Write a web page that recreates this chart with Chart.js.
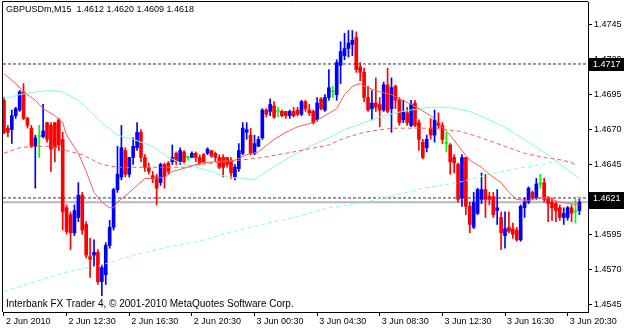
<!DOCTYPE html>
<html><head><meta charset="utf-8">
<script src="https://cdn.jsdelivr.net/npm/chart.js@4.4.0/dist/chart.umd.min.js"></script>
<style>html,body{margin:0;padding:0;background:#fff;}#wrap{width:625px;height:329px;}</style>
</head><body><div id="wrap"><canvas id="c" width="625" height="329"></canvas></div>
<script>
const symbolTitle = "GBPUSDm,M15";
const copyrightText = "Interbank FX Trader 4, \u00A9 2001-2010 MetaQuotes Software Corp.";

// OHLC of 148 M15 bars, 2 Jun 08:30 .. 3 Jun 21:15
const opens = [1.4691,1.4671,1.4670,1.4680,1.4684,1.4697,1.4678,1.4671,1.4658,1.4665,1.4665,1.4675,1.4673,1.4675,1.4677,1.4663,1.4614,1.4609,1.4596,1.4607,
1.4623,1.4602,1.4579,1.4580,1.4582,1.4561,1.4566,1.4587,1.4600,1.4627,1.4636,1.4655,1.4638,1.4650,1.4657,1.4668,1.4650,1.4643,1.4637,1.4636,
1.4632,1.4645,1.4646,1.4647,1.4653,1.4647,1.4654,1.4650,1.4650,1.4653,1.4650,1.4652,1.4653,1.4655,1.4653,1.4650,1.4650,1.4650,1.4648,1.4636,
1.4642,1.4653,1.4668,1.4666,1.4653,1.4658,1.4664,1.4684,1.4683,1.4687,1.4683,1.4683,1.4683,1.4680,1.4683,1.4684,1.4681,1.4690,1.4684,1.4683,
1.4677,1.4692,1.4684,1.4693,1.4697,1.4695,1.4716,1.4723,1.4728,1.4731,1.4736,1.4715,1.4711,1.4693,1.4685,1.4689,1.4688,1.4684,1.4702,1.4685,
1.4701,1.4691,1.4677,1.4682,1.4673,1.4689,1.4675,1.4661,1.4657,1.4671,1.4666,1.4675,1.4673,1.4660,1.4659,1.4650,1.4645,1.4621,1.4650,1.4615,
1.4600,1.4610,1.4620,1.4627,1.4622,1.4622,1.4612,1.4607,1.4594,1.4600,1.4599,1.4598,1.4591,1.4614,1.4618,1.4625,1.4621,1.4631,1.4632,1.4621,
1.4618,1.4617,1.4614,1.4607,1.4607,1.4614,1.4611,1.4612];
const highs = [1.4693,1.4673,1.4684,1.4686,1.4698,1.4703,1.4679,1.4673,1.4666,1.4673,1.4688,1.4675,1.4675,1.4675,1.4678,1.4668,1.4616,1.4611,1.4616,1.4632,
1.4625,1.4604,1.4592,1.4591,1.4584,1.4573,1.4589,1.4605,1.4628,1.4658,1.4673,1.4657,1.4650,1.4664,1.4675,1.4670,1.4652,1.4646,1.4640,1.4638,
1.4646,1.4646,1.4647,1.4659,1.4654,1.4657,1.4655,1.4651,1.4654,1.4654,1.4652,1.4653,1.4657,1.4655,1.4654,1.4652,1.4652,1.4650,1.4650,1.4645,
1.4660,1.4675,1.4675,1.4671,1.4666,1.4665,1.4685,1.4685,1.4692,1.4690,1.4686,1.4684,1.4683,1.4684,1.4686,1.4686,1.4691,1.4691,1.4688,1.4684,
1.4693,1.4693,1.4695,1.4713,1.4701,1.4720,1.4733,1.4739,1.4741,1.4741,1.4740,1.4718,1.4714,1.4701,1.4698,1.4707,1.4693,1.4704,1.4714,1.4707,
1.4702,1.4693,1.4691,1.4686,1.4691,1.4691,1.4677,1.4663,1.4666,1.4678,1.4684,1.4682,1.4675,1.4668,1.4660,1.4652,1.4646,1.4652,1.4650,1.4618,
1.4625,1.4628,1.4639,1.4638,1.4625,1.4625,1.4627,1.4611,1.4611,1.4611,1.4603,1.4600,1.4616,1.4621,1.4629,1.4626,1.4635,1.4638,1.4635,1.4622,
1.4621,1.4618,1.4616,1.4614,1.4615,1.4616,1.4620,1.4620];
const lows = [1.4667,1.4665,1.4660,1.4678,1.4683,1.4677,1.4671,1.4657,1.4628,1.4650,1.4664,1.4661,1.4640,1.4647,1.4655,1.4598,1.4595,1.4584,1.4594,1.4604,
1.4595,1.4578,1.4564,1.4572,1.4559,1.4551,1.4559,1.4585,1.4598,1.4625,1.4634,1.4636,1.4636,1.4645,1.4655,1.4647,1.4640,1.4638,1.4632,1.4616,
1.4630,1.4628,1.4638,1.4645,1.4645,1.4645,1.4646,1.4648,1.4650,1.4647,1.4645,1.4646,1.4652,1.4650,1.4647,1.4642,1.4636,1.4643,1.4635,1.4634,
1.4640,1.4652,1.4663,1.4652,1.4652,1.4658,1.4663,1.4679,1.4680,1.4678,1.4679,1.4679,1.4678,1.4678,1.4679,1.4680,1.4680,1.4683,1.4680,1.4674,
1.4676,1.4684,1.4683,1.4691,1.4693,1.4691,1.4703,1.4720,1.4722,1.4723,1.4711,1.4705,1.4690,1.4683,1.4677,1.4683,1.4672,1.4683,1.4682,1.4668,
1.4685,1.4673,1.4675,1.4673,1.4672,1.4672,1.4655,1.4649,1.4654,1.4663,1.4661,1.4671,1.4660,1.4654,1.4638,1.4639,1.4618,1.4615,1.4609,1.4596,
1.4599,1.4609,1.4617,1.4607,1.4616,1.4607,1.4602,1.4584,1.4585,1.4596,1.4592,1.4590,1.4590,1.4607,1.4617,1.4620,1.4620,1.4628,1.4618,1.4604,
1.4605,1.4604,1.4605,1.4602,1.4605,1.4604,1.4603,1.4609];
const closes = [1.4668,1.4668,1.4680,1.4685,1.4697,1.4678,1.4673,1.4658,1.4664,1.4665,1.4669,1.4663,1.4656,1.4657,1.4659,1.4611,1.4597,1.4596,1.4612,1.4623,
1.4598,1.4580,1.4577,1.4582,1.4561,1.4571,1.4587,1.4600,1.4627,1.4638,1.4657,1.4638,1.4650,1.4658,1.4668,1.4650,1.4643,1.4640,1.4635,1.4628,
1.4645,1.4636,1.4640,1.4650,1.4647,1.4655,1.4647,1.4650,1.4653,1.4650,1.4646,1.4647,1.4656,1.4651,1.4650,1.4643,1.4643,1.4645,1.4639,1.4643,
1.4655,1.4671,1.4670,1.4653,1.4660,1.4663,1.4684,1.4681,1.4688,1.4679,1.4683,1.4680,1.4680,1.4683,1.4680,1.4681,1.4690,1.4685,1.4682,1.4675,
1.4689,1.4685,1.4693,1.4700,1.4697,1.4718,1.4726,1.4728,1.4732,1.4734,1.4713,1.4711,1.4693,1.4684,1.4689,1.4686,1.4684,1.4702,1.4683,1.4700,
1.4691,1.4675,1.4683,1.4675,1.4688,1.4673,1.4663,1.4650,1.4663,1.4666,1.4677,1.4673,1.4663,1.4660,1.4647,1.4646,1.4620,1.4650,1.4615,1.4602,
1.4618,1.4627,1.4627,1.4620,1.4620,1.4609,1.4614,1.4596,1.4599,1.4597,1.4595,1.4591,1.4615,1.4618,1.4628,1.4621,1.4631,1.4631,1.4620,1.4617,
1.4614,1.4612,1.4607,1.4610,1.4614,1.4610,1.4611,1.4618];

// Moving averages: [bar, price]
const maFast = [[0,1.4710],[3,1.4703],[5,1.4697],[8,1.4691],[10,1.4685],[13,1.4680],[15,1.4675],[16,1.4666],[19,1.4653],[21,1.4640],[23,1.4625],[25,1.4618],[27,1.4614],[28,1.4614],[29,1.4618],[32,1.4625],[34,1.4630],[36,1.4635],[38,1.4635],[41,1.4636],[43,1.4640],[47,1.4643],[50,1.4646],[54,1.4647],[59,1.4648],[62,1.4652],[65,1.4654],[69,1.4663],[72,1.4668],[75,1.4672],[79,1.4675],[82,1.4680],[85,1.4685],[87,1.4695],[89,1.4701],[91,1.4703],[92,1.4701],[96,1.4697],[99,1.4695],[102,1.4691],[106,1.4685],[109,1.4680],[111,1.4675],[114,1.4666],[117,1.4655],[119,1.4648],[122,1.4643],[124,1.4638],[127,1.4632],[129,1.4625],[131,1.4620],[134,1.4619],[136,1.4621],[139,1.4621],[142,1.4618],[147,1.4616]];
const maSlow = [[0,1.4653],[4,1.4657],[8,1.4658],[12,1.4658],[16,1.4655],[20,1.4652],[25,1.4645],[29,1.4643],[33,1.4643],[38,1.4643],[42,1.4643],[46,1.4643],[50,1.4645],[57,1.4647],[66,1.4650],[74,1.4654],[83,1.4659],[87,1.4664],[92,1.4668],[96,1.4670],[100,1.4671],[104,1.4671],[109,1.4671],[116,1.4669],[121,1.4665],[127,1.4659],[133,1.4653],[138,1.4650],[143,1.4648],[146,1.4645]];
const maMid = [[0,1.4692],[4,1.4695],[8,1.4697],[12,1.4698],[15,1.4697],[19,1.4691],[22,1.4683],[25,1.4675],[29,1.4666],[33,1.4663],[38,1.4658],[42,1.4650],[46,1.4645],[49,1.4643],[53,1.4640],[57,1.4636],[62,1.4635],[64,1.4634],[66,1.4638],[70,1.4645],[74,1.4652],[79,1.4659],[83,1.4664],[87,1.4670],[92,1.4675],[96,1.4679],[100,1.4682],[104,1.4684],[109,1.4686],[114,1.4686],[119,1.4683],[124,1.4677],[129,1.4670],[134,1.4661],[140,1.4650],[143,1.4643],[147,1.4635]];
const maLong = [[0,1.4554],[8,1.4561],[16,1.4568],[25,1.4573],[33,1.4580],[42,1.4586],[50,1.4590],[57,1.4596],[66,1.4602],[74,1.4607],[83,1.4614],[92,1.4618],[100,1.4623],[107,1.4628],[116,1.4632],[124,1.4638],[133,1.4643],[141,1.4647],[146,1.4647]];

// horizontal levels
const levelLines = [1.4717, 1.4621];
const bidPrice = 1.4618;

// axes
const priceTicks = [1.4545, 1.4570, 1.4595, 1.4620, 1.4645, 1.4670, 1.4695, 1.4720, 1.4745];
const timeTickBars = [0, 16, 32, 48, 64, 80, 96, 112, 128, 144];
const timeTickLabels = ["2 Jun 2010","2 Jun 12:30","2 Jun 16:30","2 Jun 20:30","3 Jun 00:30","3 Jun 04:30","3 Jun 08:30","3 Jun 12:30","3 Jun 16:30","3 Jun 20:30"];
const priceMin = 1.45393, priceMax = 1.47614;
const barMin = -0.25, barMax = 149.2;

const FONT = 'Liberation Sans, Arial, sans-serif';
const BLUE = '#0000ff', RED = '#ff0000', LIME = '#00ff00';
const candleColors = opens.map((o, i) => closes[i] > o ? BLUE : (closes[i] < o ? RED : LIME));
const pts = arr => arr.map(p => ({x: p[0], y: p[1]}));
const hLine = v => [{x: barMin, y: v}, {x: barMax, y: v}];

const last = opens.length - 1;
const titleText = symbolTitle + "  " + [opens[last], highs[last], lows[last], closes[last]].map(v => v.toFixed(4)).join(" ");

const overlay = {
  id: 'overlay',
  afterDraw(chart) {
    const ctx = chart.ctx, a = chart.chartArea, ys = chart.scales.y;
    ctx.save();
    ctx.strokeStyle = '#000'; ctx.lineWidth = 1;
    ctx.beginPath();
    ctx.moveTo(a.left - 0.5, a.bottom); ctx.lineTo(a.left - 0.5, a.top - 0.5); ctx.lineTo(a.right, a.top - 0.5);
    ctx.stroke();
    ctx.fillStyle = '#000';
    ctx.textBaseline = 'middle';
    ctx.textAlign = 'left';
    ctx.font = '9px ' + FONT;
    ctx.fillText(titleText, 6, 10);
    ctx.font = '10px ' + FONT;
    ctx.fillText(copyrightText, 6, 304);
    ctx.font = '9px ' + FONT;
    const boxes = [bidPrice, levelLines[1], levelLines[0]];
    boxes.forEach(v => {
      const y = Math.round(ys.getPixelForValue(v));
      ctx.fillStyle = '#000';
      ctx.fillRect(a.right + 1, y - 6, 35, 13);
      ctx.fillStyle = '#fff';
      ctx.fillText(v.toFixed(4), a.right + 5, y + 0.5);
    });
    ctx.restore();
  }
};

new Chart(document.getElementById('c'), {
  data: {
    datasets: [
      {type: 'line', data: pts(maFast), borderColor: '#ff5a5a', borderWidth: 1, pointRadius: 0, tension: 0},
      {type: 'line', data: pts(maSlow), borderColor: '#ff5a5a', borderWidth: 1, borderDash: [4, 3], pointRadius: 0, tension: 0},
      {type: 'line', data: pts(maMid), borderColor: '#7fffd4', borderWidth: 1, pointRadius: 0, tension: 0},
      {type: 'line', data: pts(maLong), borderColor: '#7fffd4', borderWidth: 1, borderDash: [4, 3], pointRadius: 0, tension: 0},
      {type: 'bar', data: opens.map((o, i) => ({x: i, y: [o, closes[i]]})), backgroundColor: candleColors, barThickness: 3, minBarLength: 1, grouped: false, borderWidth: 0},
      {type: 'bar', data: lows.map((l, i) => ({x: i, y: [l, highs[i]]})), backgroundColor: candleColors, barThickness: 1, grouped: false, borderWidth: 0},
      {type: 'line', data: hLine(levelLines[0]), borderColor: '#333', borderWidth: 1, borderDash: [3, 2], pointRadius: 0},
      {type: 'line', data: hLine(levelLines[1]), borderColor: '#333', borderWidth: 1, borderDash: [3, 2], pointRadius: 0},
      {type: 'line', data: hLine(bidPrice), borderColor: '#b4b8c4', borderWidth: 2, pointRadius: 0}
    ]
  },
  options: {
    responsive: false, animation: false, devicePixelRatio: 1,
    layout: {padding: {left: 3, top: 2, right: 0, bottom: 0}},
    plugins: {legend: {display: false}, tooltip: {enabled: false}},
    scales: {
      x: {
        type: 'linear', min: barMin, max: barMax, offset: false,
        afterBuildTicks: s => { s.ticks = timeTickBars.map(v => ({value: v})); },
        afterFit: s => { s.height = 17; s.paddingLeft = 0; s.paddingRight = 0; },
        ticks: {callback: (v, i) => timeTickLabels[i], align: 'start', labelOffset: 2, maxRotation: 0, autoSkip: false, color: '#000', padding: 0, font: {family: FONT, size: 9}},
        grid: {drawOnChartArea: false, drawTicks: true, tickLength: 4, color: '#000', offset: false},
        border: {color: '#000'}
      },
      y: {
        position: 'right', min: priceMin, max: priceMax,
        afterBuildTicks: s => { s.ticks = priceTicks.map(v => ({value: v})); },
        afterFit: s => { s.width = 37; s.paddingTop = 0; s.paddingBottom = 0; },
        ticks: {callback: v => v.toFixed(4), color: '#000', padding: 2, font: {family: FONT, size: 9}},
        grid: {drawOnChartArea: false, drawTicks: true, tickLength: 4, color: '#000'},
        border: {color: '#000'}
      }
    }
  },
  plugins: [overlay]
});
</script></body></html>
